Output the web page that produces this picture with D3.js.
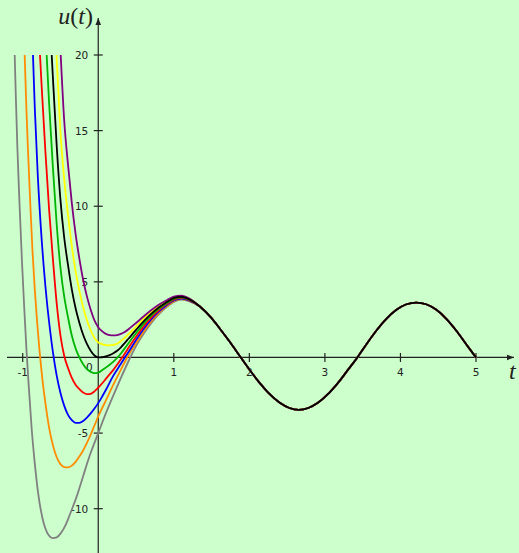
<!DOCTYPE html>
<html>
<head>
<meta charset="utf-8">
<script src="https://d3js.org/d3.v7.min.js"></script>
<style>
  html, body { margin: 0; padding: 0; background: #ccffcc; }
  svg { display: block; }
  .tick-label { font-family: "DejaVu Sans", sans-serif; font-size: 10.5px; fill: #222; }
  .axis-title { font-family: "Liberation Serif", serif; font-size: 24px; fill: #222; }
</style>
</head>
<body>
<div id="chart"></div>
<script>
// tick values
const xTicks = [-1, 1, 2, 3, 4, 5];
const yTicks = [-10, -5, 5, 10, 15, 20];

// [t, u] points, one list per curve
const purple = [[-0.497,20],[-0.45,15.62],[-0.4,12.74],[-0.35,10.22],[-0.3,8.17],[-0.25,6.54],[-0.2,5.14],[-0.15,4.04],[-0.1,3.15],[-0.05,2.45],[0,2.0],[0.05,1.74],[0.1,1.56],[0.15,1.48],[0.2,1.46],[0.25,1.48],[0.3,1.56],[0.35,1.69],[0.4,1.87],[0.5,2.28],[0.6,2.71],[0.7,3.12],[0.8,3.48],[0.9,3.77],[1.0,4.02],[1.1,4.08],[1.2,3.91]];
const yellow = [[-0.553,20],[-0.5,14.88],[-0.45,11.76],[-0.4,9.42],[-0.35,7.36],[-0.3,5.71],[-0.25,4.42],[-0.2,3.32],[-0.15,2.47],[-0.1,1.8],[-0.05,1.29],[0,1.0],[0.05,0.88],[0.1,0.81],[0.15,0.8],[0.2,0.83],[0.25,0.91],[0.3,1.08],[0.35,1.3],[0.4,1.54],[0.5,2.04],[0.6,2.55],[0.7,3.0],[0.8,3.39],[0.9,3.71],[1.0,3.97],[1.1,4.05],[1.2,3.89]];
const black = [[-0.616,20],[-0.6,18.5],[-0.55,14.0],[-0.5,10.4],[-0.45,7.9],[-0.4,6.1],[-0.35,4.5],[-0.3,3.25],[-0.25,2.3],[-0.2,1.5],[-0.15,0.9],[-0.1,0.45],[-0.05,0.13],[0,0],[0.05,0.015],[0.1,0.07],[0.15,0.16],[0.2,0.28],[0.25,0.44],[0.3,0.67],[0.35,0.95],[0.4,1.24],[0.5,1.82],[0.6,2.38],[0.7,2.88],[0.8,3.3],[0.9,3.64],[1.0,3.92],[1.1,4.01],[1.2,3.86]];
const green = [[-0.683,20],[-0.65,16.77],[-0.6,12.55],[-0.55,8.79],[-0.5,5.92],[-0.45,4.0],[-0.4,2.65],[-0.35,1.45],[-0.3,0.6],[-0.25,0.0],[-0.2,-0.45],[-0.15,-0.77],[-0.1,-0.95],[-0.05,-1.04],[0,-1.0],[0.05,-0.85],[0.1,-0.67],[0.15,-0.48],[0.2,-0.27],[0.25,-0.03],[0.3,0.26],[0.35,0.6],[0.4,0.94],[0.5,1.6],[0.6,2.22],[0.7,2.76],[0.8,3.21],[0.9,3.57],[1.0,3.87],[1.1,3.97],[1.2,3.83]];
const red = [[-0.771,20],[-0.75,18.02],[-0.7,13.66],[-0.65,9.74],[-0.6,6.5],[-0.55,3.58],[-0.5,1.44],[-0.45,0.1],[-0.4,-0.7],[-0.35,-1.35],[-0.3,-1.8],[-0.25,-2.1],[-0.2,-2.32],[-0.15,-2.43],[-0.1,-2.4],[-0.05,-2.24],[0,-2.0],[0.05,-1.72],[0.1,-1.42],[0.15,-1.12],[0.2,-0.82],[0.25,-0.48],[0.3,-0.12],[0.35,0.25],[0.4,0.64],[0.5,1.37],[0.6,2.05],[0.7,2.64],[0.8,3.12],[0.9,3.51],[1.0,3.82],[1.1,3.94],[1.2,3.81]];
const blue = [[-0.864,20],[-0.84,16.5],[-0.8,12.0],[-0.76,8.6],[-0.72,5.9],[-0.68,3.7],[-0.64,1.9],[-0.6,0.35],[-0.55,-1.2],[-0.5,-2.35],[-0.45,-3.2],[-0.4,-3.8],[-0.35,-4.15],[-0.3,-4.32],[-0.25,-4.32],[-0.2,-4.2],[-0.15,-3.98],[-0.1,-3.7],[-0.05,-3.38],[0,-3.02],[0.05,-2.6],[0.1,-2.15],[0.2,-1.2],[0.3,-0.42],[0.35,-0.02],[0.4,0.36],[0.5,1.15],[0.6,1.88],[0.7,2.52],[0.8,3.03],[0.9,3.44],[1.0,3.77],[1.1,3.9],[1.2,3.78]];
const orange = [[-0.974,20],[-0.95,16.3],[-0.93,13.7],[-0.9,10.2],[-0.87,7.0],[-0.84,4.5],[-0.81,2.4],[-0.78,0.6],[-0.74,-1.4],[-0.7,-3.0],[-0.65,-4.65],[-0.6,-5.8],[-0.55,-6.6],[-0.5,-7.05],[-0.45,-7.25],[-0.4,-7.27],[-0.35,-7.15],[-0.3,-6.9],[-0.25,-6.55],[-0.2,-6.15],[-0.15,-5.65],[-0.1,-5.1],[-0.05,-4.5],[0,-3.9],[0.1,-2.85],[0.2,-1.8],[0.3,-0.8],[0.4,0.15],[0.5,0.95],[0.6,1.72],[0.7,2.39],[0.8,2.94],[0.9,3.37],[1.0,3.72],[1.1,3.86],[1.2,3.75]];
const gray = [[-1.106,20],[-1.09,17.1],[-1.07,13.8],[-1.04,9.9],[-1.01,6.4],[-0.98,3.3],[-0.95,0.5],[-0.92,-1.9],[-0.88,-4.8],[-0.84,-7.0],[-0.8,-8.8],[-0.76,-10.1],[-0.72,-11.0],[-0.68,-11.55],[-0.64,-11.85],[-0.6,-11.95],[-0.55,-11.9],[-0.5,-11.65],[-0.45,-11.25],[-0.4,-10.7],[-0.35,-10.05],[-0.3,-9.4],[-0.25,-8.65],[-0.2,-7.85],[-0.15,-7.05],[-0.1,-6.3],[-0.05,-5.65],[0,-5.0],[0.1,-3.7],[0.2,-2.5],[0.3,-1.35],[0.4,-0.25],[0.5,0.75],[0.6,1.56],[0.7,2.27],[0.8,2.85],[0.9,3.31],[1.0,3.67],[1.1,3.83],[1.2,3.73]];
// shared part once the curves have merged
const tail = [[1.345,3.37],[1.5,2.6],[1.61,1.9],[1.75,0.97],[1.887,0],[2.0,-0.79],[2.139,-1.7],[2.25,-2.33],[2.403,-3.0],[2.53,-3.34],[2.655,-3.46],[2.78,-3.34],[2.907,-3.0],[3.06,-2.33],[3.171,-1.7],[3.31,-0.79],[3.43,0],[3.55,0.88],[3.68,1.77],[3.81,2.54],[3.947,3.15],[4.08,3.52],[4.21,3.63],[4.34,3.52],[4.476,3.15],[4.61,2.54],[4.74,1.77],[4.87,0.88],[5.0,0]];

const curves = [
  { pts: gray, color: "#808080" },
  { pts: orange, color: "#ff8c00" },
  { pts: blue, color: "#0000ff" },
  { pts: red, color: "#ff0000" },
  { pts: green, color: "#00b400" },
  { pts: yellow, color: "#ffff00" },
  { pts: purple, color: "#800080" },
  { pts: black, color: "#000000" }
];

const width = 519, height = 553;
const x = d3.scaleLinear().domain([-1, 5]).range([22.7, 476]);
const y = d3.scaleLinear().domain([-10, 20]).range([508.7, 55]);

const svg = d3.select("#chart").append("svg")
  .attr("width", width)
  .attr("height", height);

svg.append("rect").attr("width", width).attr("height", height).attr("fill", "#ccffcc");

const axisColor = "#222";

svg.append("defs").append("marker")
  .attr("id", "arrow")
  .attr("viewBox", "0 -5 10 10")
  .attr("refX", 10).attr("refY", 0)
  .attr("markerUnits", "userSpaceOnUse")
  .attr("markerWidth", 8).attr("markerHeight", 7)
  .attr("orient", "auto")
  .append("path").attr("d", "M0,-4L10,0L0,4Z").attr("fill", axisColor);

// axes
svg.append("line")
  .attr("x1", 7).attr("x2", 514)
  .attr("y1", y(0)).attr("y2", y(0))
  .attr("stroke", axisColor).attr("stroke-width", 1.2)
  .attr("marker-end", "url(#arrow)");
svg.append("line")
  .attr("x1", x(0)).attr("x2", x(0))
  .attr("y1", height).attr("y2", 18)
  .attr("stroke", axisColor).attr("stroke-width", 1.2)
  .attr("marker-end", "url(#arrow)");

// ticks across the axes
svg.selectAll(".xtick").data(xTicks).enter().append("line")
  .attr("x1", d => x(d)).attr("x2", d => x(d))
  .attr("y1", y(0) - 4.5).attr("y2", y(0) + 4.5)
  .attr("stroke", axisColor).attr("stroke-width", 1.2);
svg.selectAll(".ytick").data(yTicks).enter().append("line")
  .attr("x1", x(0) - 4.5).attr("x2", x(0) + 4.5)
  .attr("y1", d => y(d)).attr("y2", d => y(d))
  .attr("stroke", axisColor).attr("stroke-width", 1.2);

svg.selectAll(".xlab").data(xTicks).enter().append("text")
  .attr("class", "tick-label")
  .attr("x", d => x(d)).attr("y", y(0) + 19)
  .attr("text-anchor", "middle")
  .text(d => d);
svg.selectAll(".ylab").data(yTicks).enter().append("text")
  .attr("class", "tick-label")
  .attr("x", x(0) - 10).attr("y", d => y(d) + 4)
  .attr("text-anchor", "end")
  .text(d => d);
svg.append("text").attr("class", "tick-label")
  .attr("x", x(0) - 9).attr("y", y(0) + 14)
  .attr("text-anchor", "middle").text("0");

// axis titles
const ut = svg.append("text").attr("class", "axis-title")
  .attr("x", 93).attr("y", 24).attr("text-anchor", "end");
ut.append("tspan").attr("font-style", "italic").text("u");
ut.append("tspan").text("(");
ut.append("tspan").attr("font-style", "italic").text("t");
ut.append("tspan").text(")");
svg.append("text").attr("class", "axis-title")
  .attr("x", 509).attr("y", 379)
  .attr("font-style", "italic").text("t");

// curves
const line = d3.line()
  .x(d => x(d[0]))
  .y(d => y(d[1]))
  .curve(d3.curveMonotoneX);

curves.forEach(c => {
  svg.append("path")
    .datum(c.pts.concat(tail))
    .attr("d", line)
    .attr("fill", "none")
    .attr("stroke", c.color)
    .attr("stroke-width", 1.8);
});
</script>
</body>
</html>
